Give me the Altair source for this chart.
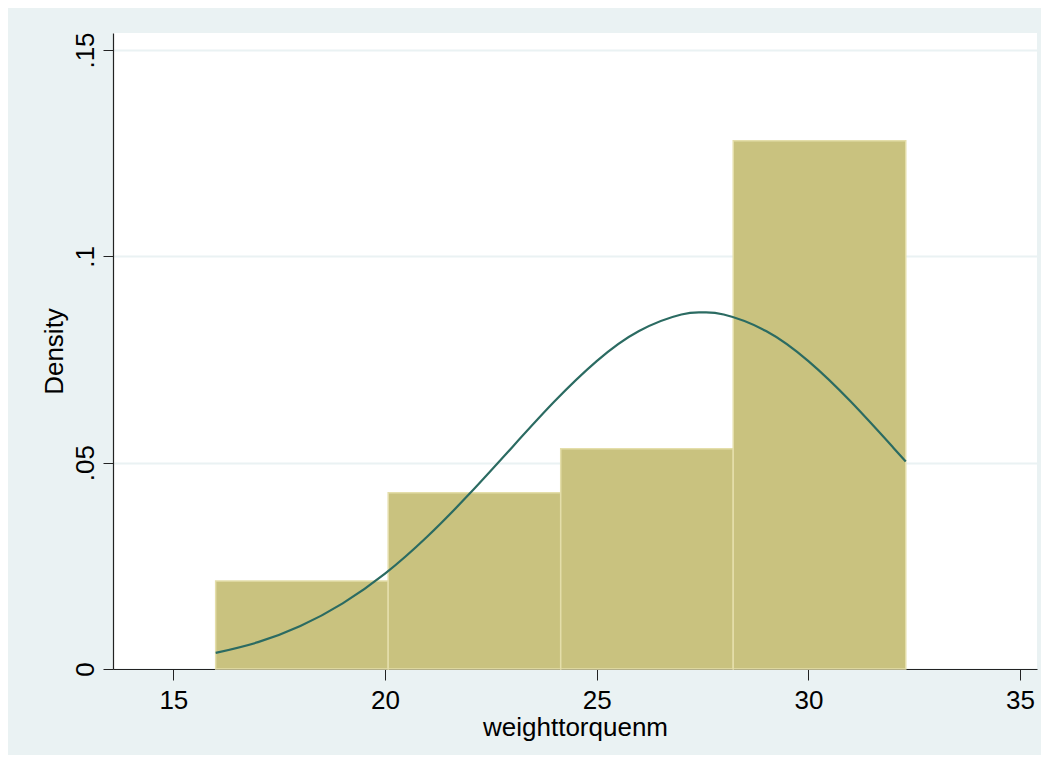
import altair as alt
import pandas as pd

# Histogram bins (weighttorquenm) and densities
bin_start = [16.0, 20.075, 24.15, 28.225]
bin_end = [20.075, 24.15, 28.225, 32.3]
density = [0.0213, 0.0427, 0.0534, 0.1280]

# Normal density overlay
curve_x = [16, 17, 18, 19, 20, 21, 22, 23, 24, 25, 26, 27, 27.5, 28, 29, 30, 31, 32, 32.3]
curve_y = [0.0039, 0.0065, 0.0104, 0.0159, 0.0231, 0.0321, 0.0425, 0.0537, 0.0648,
           0.0746, 0.0819, 0.0859, 0.0864, 0.0859, 0.0819, 0.0746, 0.0648, 0.0537, 0.0503]

x_ticks = [15, 20, 25, 30, 35]
y_ticks = [0, 0.05, 0.1, 0.15]

bars = pd.DataFrame({"x0": bin_start, "x1": bin_end, "d": density})
curve = pd.DataFrame({"x": curve_x, "y": curve_y})

FONT = "Liberation Sans"
xscale = alt.Scale(domain=[13.575, 35.40], nice=False, zero=False)
yscale = alt.Scale(domain=[0, 0.15412], nice=False, zero=True)

xaxis = alt.Axis(values=x_ticks, title="weighttorquenm", grid=False,
                 labelFont=FONT, labelFontSize=26, labelColor="black",
                 titleFont=FONT, titleFontSize=26, titleColor="black", titleFontWeight="normal",
                 tickSize=11, tickColor="#222", tickWidth=1, labelPadding=7,
                 domainColor="#222", domainWidth=1.2, titleY=66, titleBaseline="alphabetic",
                 labelFlush=False)
yaxis = alt.Axis(values=y_ticks, title="Density", grid=True, gridColor="#EAF2F3", gridWidth=2,
                 labelExpr="datum.value == 0 ? '0' : replace(format(datum.value, '.2~f'), '0.', '.')",
                 labelFont=FONT, labelFontSize=26, labelColor="black", labelAngle=270,
                 labelAlign="center", labelBaseline="alphabetic", labelPadding=10,
                 titleFont=FONT, titleFontSize=26, titleColor="black", titleFontWeight="normal",
                 titleAngle=270, titleAlign="center", titleBaseline="alphabetic",
                 titleX=-51, titleY=318,
                 tickSize=10, tickColor="#222", tickWidth=1,
                 domainColor="#222", domainWidth=1.2, labelFlush=False)

hist = alt.Chart(bars).mark_rect(fill="#C9C27F", stroke="#E4DEAA", strokeWidth=1.5).encode(
    x=alt.X("x0:Q", scale=xscale, axis=xaxis),
    x2="x1:Q",
    y=alt.Y("d:Q", scale=yscale, axis=yaxis),
    y2=alt.datum(0),
)

line = alt.Chart(curve).mark_line(color="#2B6B62", strokeWidth=2.2, interpolate="natural").encode(
    x=alt.X("x:Q", scale=xscale),
    y=alt.Y("y:Q", scale=yscale),
)

chart = alt.layer(hist, line).properties(
    width=924, height=636,
    padding={"left": 105, "top": 25, "right": 4, "bottom": 86},
    autosize="none",
    background="#EAF2F3",
).configure_view(fill="white", stroke=None)

chart.save("out.html", embed_options={"renderer": "svg", "actions": False})
